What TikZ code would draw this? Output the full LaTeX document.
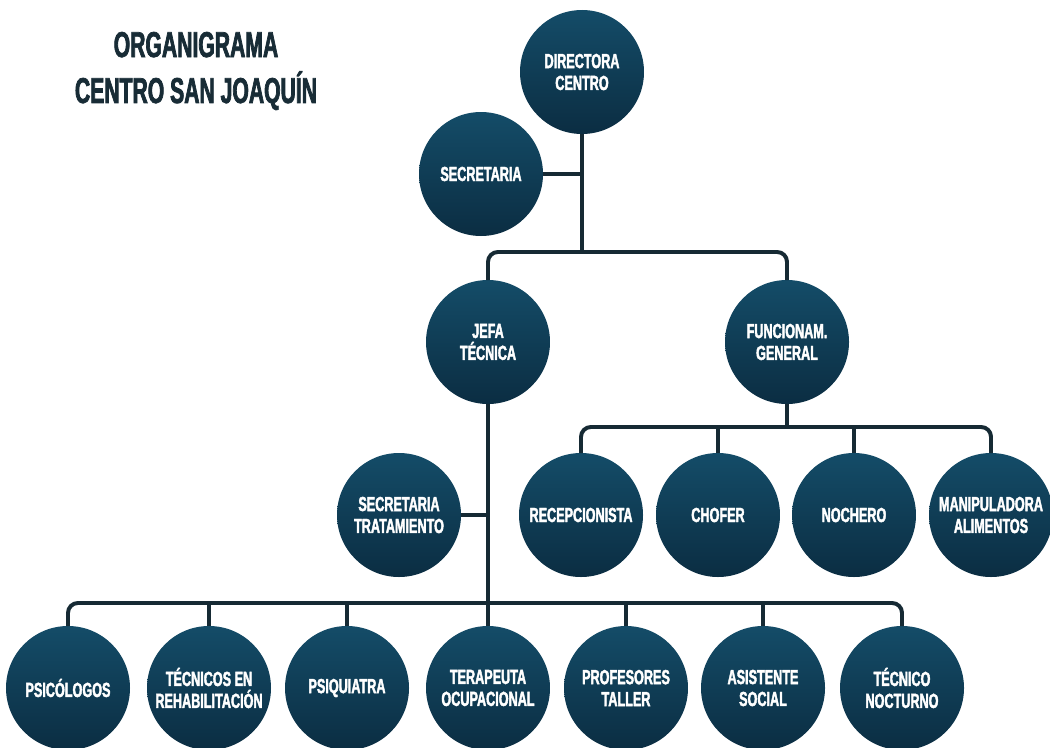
\documentclass[tikz,border=0pt]{standalone}
\usepackage{fontspec}
\usepackage{tikz}
\usetikzlibrary{positioning}
\newfontfamily\orgfont{Liberation Sans}[FakeStretch=0.62, BoldFeatures={FakeBold=2}]
\newfontfamily\titfont{Liberation Sans}[FakeStretch=0.59, BoldFeatures={FakeBold=2}]
\definecolor{azulclaro}{RGB}{20,76,104}
\definecolor{azuloscuro}{RGB}{11,45,66}
\definecolor{linea}{RGB}{22,42,52}
\definecolor{tinta}{RGB}{24,44,54}

\begin{document}
\begin{tikzpicture}[scale=0.25]
\tikzstyle{every node}+=[inner sep=0pt, outer sep=0pt]
\tikzstyle{puesto}=[circle, minimum size=3.1cm, top color=azulclaro, bottom color=azuloscuro,
  text=white, align=center, font=\orgfont\bfseries\fontsize{14.5}{15.6}\selectfont]
\tikzstyle{rama}=[draw=linea, line width=2.8pt]
\tikzstyle{titulo}=[text=tinta, align=center, font=\titfont\bfseries\fontsize{25.5}{32.7}\selectfont]

\clip (0,0) rectangle (105,-74.7);
\fill [white] (0,0) rectangle (105,-74.7);

\node [titulo] (titulo) at (19.6,-7.1) {ORGANIGRAMA\\CENTRO SAN JOAQUÍN};

% bus coordinates
\coordinate (bus1) at (58.2,-25.2);
\coordinate (bus2) at (78.7,-42.7);
\coordinate (bus3) at (48.8,-60.3);

% first levels
\node [puesto] (dir) at (58.2,-7.2) {DIRECTORA\\CENTRO};
\node [puesto] (sec) at (48.1,-17.4) {SECRETARIA};
\node [puesto] (jefa) at (48.8,-34.2) {JEFA\\TÉCNICA};
\node [puesto] (func) at (78.7,-34.2) {FUNCIONAM.\\GENERAL};
\node [puesto] (sectrat) at (39.9,-51.5) {SECRETARIA\\TRATAMIENTO};

% funcionamiento general
\node [puesto] (recep) at (58.1,-51.5) {RECEPCIONISTA};
\node [puesto] (chofer) at (71.8,-51.5) {CHOFER};
\node [puesto] (nochero) at (85.4,-51.5) {NOCHERO};
\node [puesto] (manip) at (99.1,-51.5) {MANIPULADORA\\ALIMENTOS};

% jefa tecnica
\node [puesto] (psico) at (6.8,-68.8) {PSICÓLOGOS};
\node [puesto] (tecrehab) at (20.9,-68.8) {TÉCNICOS EN\\REHABILITACIÓN};
\node [puesto] (psiq) at (34.7,-68.8) {PSIQUIATRA};
\node [puesto] (terap) at (48.8,-68.8) {TERAPEUTA\\OCUPACIONAL};
\node [puesto] (prof) at (62.6,-68.8) {PROFESORES\\TALLER};
\node [puesto] (asist) at (76.3,-68.8) {ASISTENTE\\SOCIAL};
\node [puesto] (tecnoc) at (90.2,-68.8) {TÉCNICO\\NOCTURNO};

% connectors
\draw [rama] (dir.south) -- (bus1);
\draw [rama] (sec.east) -- (sec.east -| dir);
\draw [rama, rounded corners=7pt] (jefa.north) |- (bus1) -| (func.north);
\draw [rama] (jefa.south) -- (terap.north);
\draw [rama] (sectrat.east) -- (sectrat.east -| jefa);
\draw [rama, rounded corners=7pt] (psico.north) |- (bus3) -| (tecnoc.north);
\foreach \n in {tecrehab,psiq,prof,asist}
  \draw [rama] (\n.north) -- (\n.north |- bus3);
\draw [rama] (func.south) -- (bus2);
\draw [rama, rounded corners=7pt] (recep.north) |- (bus2) -| (manip.north);
\foreach \n in {chofer,nochero}
  \draw [rama] (\n.north) -- (\n.north |- bus2);
\end{tikzpicture}
\end{document}
